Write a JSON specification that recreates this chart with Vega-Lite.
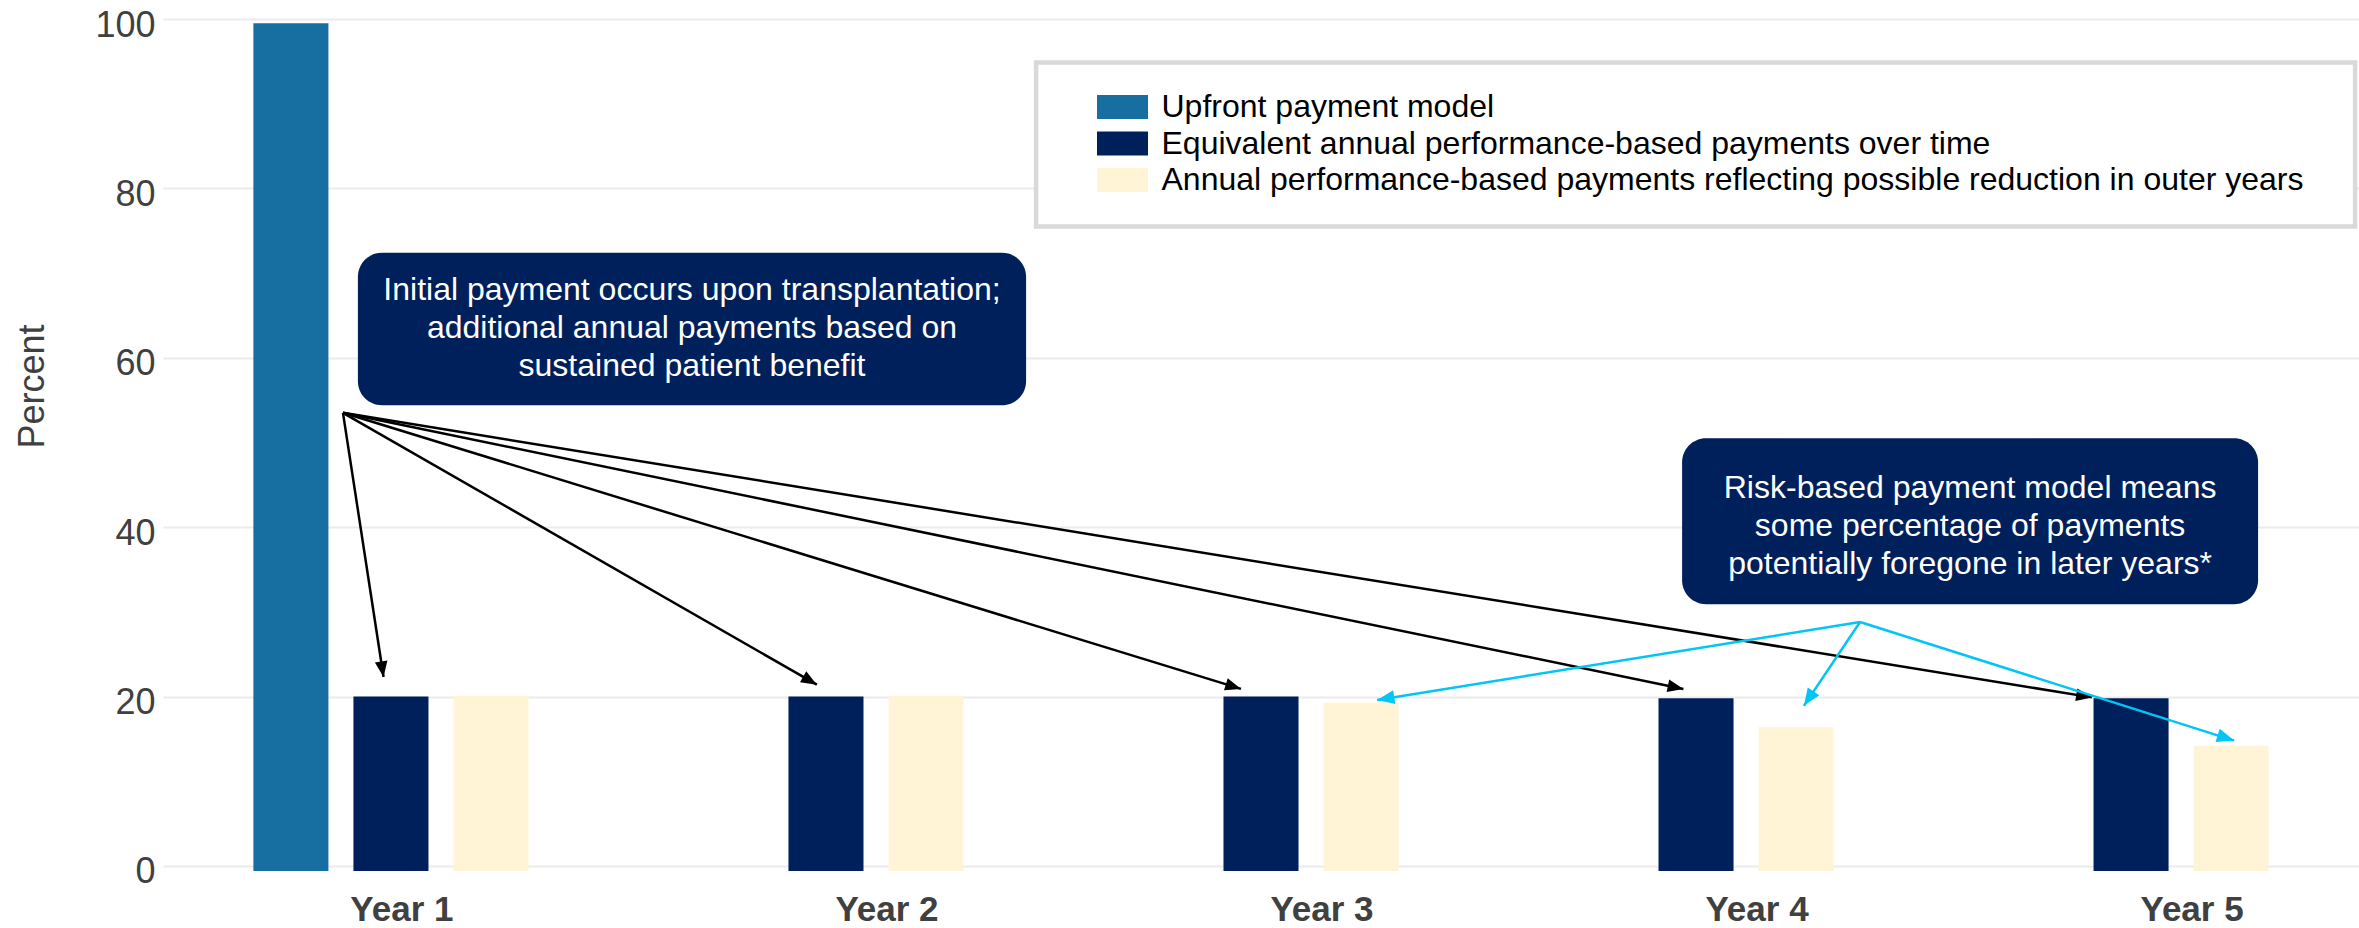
{
  "$schema": "https://vega.github.io/schema/vega-lite/v6.json",
  "width": 2196,
  "height": 852,
  "autosize": {"type": "none"},
  "padding": {"left": 163, "top": 19, "right": 0, "bottom": 57},
  "background": "white",
  "config": {"view": {"stroke": null}, "font": "Liberation Sans"},
  "datasets": {
    "bars": [
      {"year": "Year 1", "series": "Upfront payment model", "value": 99.5},
      {"year": "Year 1", "series": "Equivalent annual performance-based payments over time", "value": 20},
      {"year": "Year 1", "series": "Annual performance-based payments reflecting possible reduction in outer years", "value": 20.1},
      {"year": "Year 2", "series": "Equivalent annual performance-based payments over time", "value": 20},
      {"year": "Year 2", "series": "Annual performance-based payments reflecting possible reduction in outer years", "value": 20.1},
      {"year": "Year 3", "series": "Equivalent annual performance-based payments over time", "value": 20},
      {"year": "Year 3", "series": "Annual performance-based payments reflecting possible reduction in outer years", "value": 19.3},
      {"year": "Year 4", "series": "Equivalent annual performance-based payments over time", "value": 19.8},
      {"year": "Year 4", "series": "Annual performance-based payments reflecting possible reduction in outer years", "value": 16.4},
      {"year": "Year 5", "series": "Equivalent annual performance-based payments over time", "value": 19.8},
      {"year": "Year 5", "series": "Annual performance-based payments reflecting possible reduction in outer years", "value": 14.2}
    ],
    "legendBox": [{"x": 2.483, "x2": 5.515, "y": 94.86, "y2": 75.5}],
    "boxes": [
      {"x": 0.924, "x2": 2.46, "y": 72.4, "y2": 54.4},
      {"x": 3.968, "x2": 5.292, "y": 50.5, "y2": 30.9}
    ],
    "notes": [
      {"x": 1.692, "y": 68.0, "lines": ["Initial payment occurs upon transplantation;", "additional annual payments based on", "sustained patient benefit"]},
      {"x": 4.63, "y": 44.6, "lines": ["Risk-based payment model means", "some percentage of payments", "potentially foregone in later years*"]}
    ],
    "blackArrows": [
      {"x": 0.8897, "y": 53.5, "x2": 0.983, "y2": 22.3},
      {"x": 0.8897, "y": 53.5, "x2": 1.979, "y2": 21.4},
      {"x": 0.8897, "y": 53.5, "x2": 2.954, "y2": 20.9},
      {"x": 0.8897, "y": 53.5, "x2": 3.971, "y2": 20.9},
      {"x": 0.8897, "y": 53.5, "x2": 4.91, "y2": 19.9}
    ],
    "cyanArrows": [
      {"x": 4.377, "y": 28.8, "x2": 3.267, "y2": 19.6},
      {"x": 4.377, "y": 28.8, "x2": 4.248, "y2": 18.9},
      {"x": 4.377, "y": 28.8, "x2": 5.237, "y2": 14.8}
    ]
  },
  "layer": [
    {
      "data": {"name": "bars"},
      "mark": {"type": "bar"},
      "encoding": {
        "x": {
          "field": "year", "type": "nominal", "sort": null,
          "scale": {"paddingInner": 0.31, "paddingOuter": 0.179},
          "axis": {
            "title": null, "domain": false, "ticks": false, "grid": false,
            "labelAngle": 0, "labelFont": "Liberation Sans", "labelFontSize": 35, "labelFontWeight": "bold",
            "labelColor": "#404040", "labelPadding": 56, "labelBaseline": "bottom",
            "labelOffset": {"condition": {"test": "datum.value === 'Year 1'", "value": 11}, "value": 61}
          }
        },
        "xOffset": {
          "field": "series", "type": "nominal",
          "scale": {
            "domain": ["Upfront payment model", "Equivalent annual performance-based payments over time", "Annual performance-based payments reflecting possible reduction in outer years"],
            "paddingInner": 0.25, "paddingOuter": 0.125
          }
        },
        "y": {
          "field": "value", "type": "quantitative", "title": "Percent",
          "scale": {"domain": [-0.6, 100], "nice": false, "zero": false},
          "axis": {
            "values": [0, 20, 40, 60, 80, 100], "domain": false, "ticks": false,
            "grid": true, "gridColor": "#ebebeb", "gridWidth": 2,
            "labelFont": "Liberation Sans", "labelFontSize": 36, "labelColor": "#404040", "labelPadding": 8,
            "labelBaseline": "alphabetic", "labelOffset": 17,
            "titleFont": "Liberation Sans", "titleFontSize": 36, "titleFontWeight": "normal", "titleColor": "#404040",
            "titleAngle": -90, "titleX": -120, "titleY": 367, "titleAlign": "center", "titleBaseline": "alphabetic"
          }
        },
        "y2": {"datum": -0.6},
        "color": {
          "field": "series", "type": "nominal",
          "scale": {
            "domain": ["Upfront payment model", "Equivalent annual performance-based payments over time", "Annual performance-based payments reflecting possible reduction in outer years"],
            "range": ["#166FA0", "#00205B", "#FFF5D6"]
          },
          "legend": {
            "title": null, "orient": "none", "legendX": 943.5, "legendY": 72, "padding": 0,
            "symbolType": "M-2,-0.94H2V0.94H-2Z", "symbolSize": 650, "symbolStrokeWidth": 0, "symbolOpacity": 1,
            "labelFont": "Liberation Sans", "labelFontSize": 32, "labelColor": "#000000", "labelLimit": 2000,
            "labelOffset": 23, "rowPadding": 4.5
          }
        }
      }
    },
    {
      "layer": [
        {
          "data": {"name": "legendBox"},
          "mark": {"type": "rect", "fill": "white", "stroke": "#d9d9d9", "strokeWidth": 4.5},
          "encoding": {
            "x": {"field": "x", "type": "quantitative", "scale": {"domain": [0.476, 5.524], "nice": false, "zero": false}, "axis": null},
            "x2": {"field": "x2"},
            "y": {"field": "y", "type": "quantitative"},
            "y2": {"field": "y2"}
          }
        },
        {
          "data": {"name": "boxes"},
          "mark": {"type": "rect", "fill": "#00205B", "cornerRadius": 24},
          "encoding": {
            "x": {"field": "x", "type": "quantitative", "scale": {"domain": [0.476, 5.524], "nice": false, "zero": false}, "axis": null},
            "x2": {"field": "x2"},
            "y": {"field": "y", "type": "quantitative"},
            "y2": {"field": "y2"}
          }
        },
        {
          "data": {"name": "notes"},
          "mark": {"type": "text", "align": "center", "baseline": "middle", "font": "Liberation Sans", "fontSize": 32, "lineHeight": 38, "color": "white"},
          "encoding": {
            "x": {"field": "x", "type": "quantitative", "scale": {"domain": [0.476, 5.524], "nice": false, "zero": false}, "axis": null},
            "y": {"field": "y", "type": "quantitative"},
            "text": {"field": "lines"}
          }
        },
        {
          "data": {"name": "blackArrows"},
          "mark": {"type": "rule", "color": "#000000", "strokeWidth": 2.5},
          "encoding": {
            "x": {"field": "x", "type": "quantitative", "scale": {"domain": [0.476, 5.524], "nice": false, "zero": false}, "axis": null},
            "x2": {"field": "x2"},
            "y": {"field": "y", "type": "quantitative"},
            "y2": {"field": "y2"}
          }
        },
        {
          "data": {"name": "blackArrows"},
          "transform": [{"calculate": "atan2((datum.x2 - datum.x) * 435, (datum.y2 - datum.y) * 8.47) * 180 / PI", "as": "angle"}],
          "mark": {"type": "point", "shape": "M0,0L0.4,1L-0.4,1Z", "size": 1000, "filled": true, "opacity": 1, "color": "#000000", "strokeWidth": 0},
          "encoding": {
            "x": {"field": "x2", "type": "quantitative", "scale": {"domain": [0.476, 5.524], "nice": false, "zero": false}, "axis": null},
            "y": {"field": "y2", "type": "quantitative"},
            "angle": {"field": "angle", "type": "quantitative", "scale": null}
          }
        },
        {
          "data": {"name": "cyanArrows"},
          "mark": {"type": "rule", "color": "#00C5F5", "strokeWidth": 2.5},
          "encoding": {
            "x": {"field": "x", "type": "quantitative", "scale": {"domain": [0.476, 5.524], "nice": false, "zero": false}, "axis": null},
            "x2": {"field": "x2"},
            "y": {"field": "y", "type": "quantitative"},
            "y2": {"field": "y2"}
          }
        },
        {
          "data": {"name": "cyanArrows"},
          "transform": [{"calculate": "atan2((datum.x2 - datum.x) * 435, (datum.y2 - datum.y) * 8.47) * 180 / PI", "as": "angle"}],
          "mark": {"type": "point", "shape": "M0,0L0.4,1L-0.4,1Z", "size": 1200, "filled": true, "opacity": 1, "color": "#00C5F5", "strokeWidth": 0},
          "encoding": {
            "x": {"field": "x2", "type": "quantitative", "scale": {"domain": [0.476, 5.524], "nice": false, "zero": false}, "axis": null},
            "y": {"field": "y2", "type": "quantitative"},
            "angle": {"field": "angle", "type": "quantitative", "scale": null}
          }
        }
      ]
    }
  ],
  "resolve": {"scale": {"x": "independent"}}
}
